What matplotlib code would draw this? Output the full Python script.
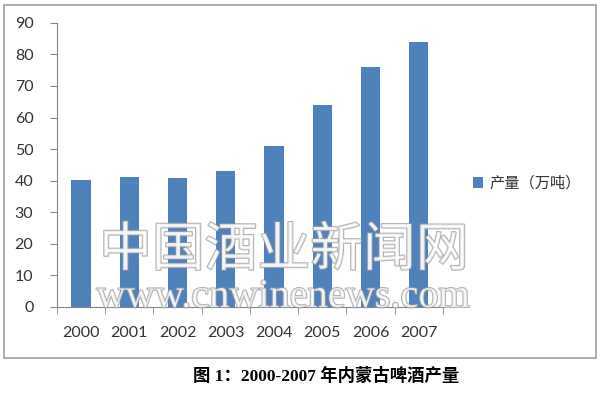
import matplotlib.pyplot as plt
import matplotlib.patheffects as pe
from matplotlib.patches import Rectangle

plt.rcParams['font.family'] = ['Lato', 'Noto Sans CJK SC', 'DejaVu Sans']

# 年份与产量（万吨）
years = ['2000', '2001', '2002', '2003', '2004', '2005', '2006', '2007']
output = [40.2, 41.1, 40.7, 43.2, 51.0, 63.9, 75.9, 84.0]
yticks = [0, 10, 20, 30, 40, 50, 60, 70, 80, 90]

fig = plt.figure(figsize=(6, 3.94), dpi=100)
# 外框
fig.patches.append(Rectangle((0.006, 0.092), 0.988, 0.896, transform=fig.transFigure,
                             fill=False, edgecolor='#a0a0a0', linewidth=1.2))

ax = fig.add_axes([0.095, 0.221, 0.643, 0.721])
x = range(len(years))
ax.bar(x, output, width=0.4, color='#4f81bd', label='产量（万吨）', zorder=2)

ax.set_xlim(-0.5, len(years) - 0.5)
ax.set_ylim(0, 90)
ax.set_yticks(yticks)
ax.set_xticks(list(x))
ax.set_xticklabels(years)
ax.set_xticks([i - 0.5 for i in range(len(years) + 1)], minor=True)
ax.tick_params(axis='x', which='major', length=0, pad=14, labelsize=11.5, labelcolor='#333333')
ax.tick_params(axis='x', which='minor', length=5, color='#868686', direction='out')
ax.tick_params(axis='y', length=5, color='#868686', labelsize=11.5, labelcolor='#333333', pad=12)
for s in ['top', 'right']:
    ax.spines[s].set_visible(False)
ax.spines['left'].set_color('#868686')
ax.spines['bottom'].set_color('#868686')

leg = fig.legend(loc='center left', bbox_to_anchor=(0.765, 0.535), frameon=False,
                 handlelength=0.7, handleheight=0.7, handletextpad=0.4,
                 prop={'family': 'Noto Sans CJK SC', 'size': 11})
for t in leg.get_texts():
    t.set_color('#333333')

# 水印
fx = [pe.Stroke(linewidth=1.5, foreground='#9a9a9a'), pe.Normal()]
fig.text(0.473, 0.365, '中国酒业新闻网', ha='center', va='center', fontsize=38,
         color='white', alpha=0.75, family='Noto Sans CJK SC', path_effects=fx)
fig.text(0.472, 0.245, 'www.cnwinenews.com', ha='center', va='center', fontsize=29,
         color='white', alpha=0.75, family='Liberation Serif', path_effects=fx)

fig.text(0.543, 0.045, '图 1：2000-2007 年内蒙古啤酒产量', ha='center', va='center',
         fontsize=12.5, fontweight='bold', family=['Liberation Serif', 'Noto Sans CJK SC'])

fig.savefig('out.png', dpi=100)
